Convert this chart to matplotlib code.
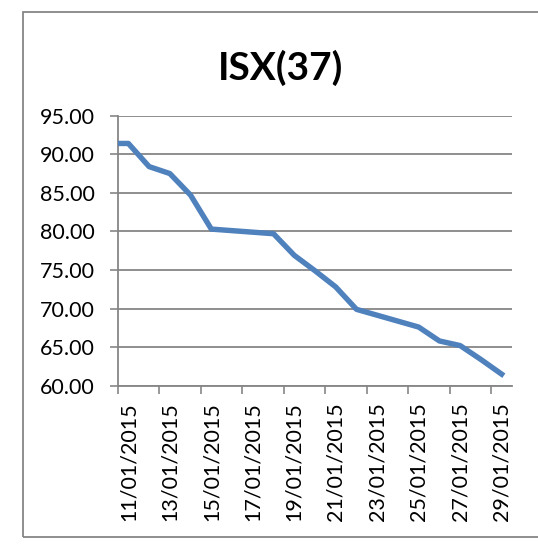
import pandas as pd
import matplotlib
matplotlib.use("Agg")
import matplotlib.pyplot as plt
import matplotlib.dates as mdates
from matplotlib.patches import Rectangle

# ISX(37) index readings, January 2015
dates = ["2015-01-10", "2015-01-11", "2015-01-12", "2015-01-13", "2015-01-14",
         "2015-01-15", "2015-01-18", "2015-01-19", "2015-01-20", "2015-01-21",
         "2015-01-22", "2015-01-25", "2015-01-26", "2015-01-27", "2015-01-28",
         "2015-01-29"]
values = [91.4, 91.4, 88.4, 87.5, 84.7,
          80.3, 79.7, 76.9, 74.9, 72.8,
          69.9, 67.6, 65.8, 65.2, 63.4,
          61.5]
label_dates = ["2015-01-11", "2015-01-13", "2015-01-15", "2015-01-17", "2015-01-19",
               "2015-01-21", "2015-01-23", "2015-01-25", "2015-01-27", "2015-01-29"]
y_ticks = [60, 65, 70, 75, 80, 85, 90, 95]
title = "ISX(37)"

GRID = "#868686"
LINE = "#4F81BD"

plt.rcParams["font.family"] = ["Lato", "DejaVu Sans"]

x = pd.to_datetime(dates)
lab = pd.to_datetime(label_dates)
half = pd.Timedelta(hours=12)

fig = plt.figure(figsize=(5.38, 5.5), dpi=100)
ax = fig.add_axes([118 / 538, 1 - 385.7 / 550, 394 / 538, 270 / 550])

ax.plot(x, values, color=LINE, lw=3.9, solid_joinstyle="round", zorder=3)

ax.set_xlim(lab[0] - half, lab[-1] + half)
ax.set_ylim(60, 95)
ax.set_yticks(y_ticks)
ax.set_yticklabels([f"{v:.2f}" for v in y_ticks])
ax.yaxis.grid(True, color=GRID, lw=1.3)
ax.set_axisbelow(True)

# tick marks between the day slots, labels on the days
ax.set_xticks(list(lab - half))
ax.set_xticklabels([])
ax.set_xticks(list(lab), minor=True)
ax.xaxis.set_minor_formatter(mdates.DateFormatter("%d/%m/%Y"))
ax.tick_params(axis="x", which="major", length=6, width=1.2, color=GRID, direction="out")
ax.tick_params(axis="x", which="minor", length=0, pad=12, labelsize=15.5, labelrotation=90)
ax.tick_params(axis="y", length=6, width=1.2, color=GRID, pad=11, labelsize=15.5)

for side in ["top", "right"]:
    ax.spines[side].set_visible(False)
for side in ["left", "bottom"]:
    ax.spines[side].set_color(GRID)
    ax.spines[side].set_linewidth(1.3)

fig.text(281 / 538, 1 - 80 / 550, title, ha="center", va="baseline",
         fontsize=28, fontweight="bold")

# outer chart frame
fig.patches.append(Rectangle((23 / 538, 1 - 537 / 550), 1.0, (537 - 12) / 550,
                             transform=fig.transFigure, fill=False,
                             edgecolor=GRID, lw=1.3, clip_on=False))

fig.savefig("out.png", dpi=100)
